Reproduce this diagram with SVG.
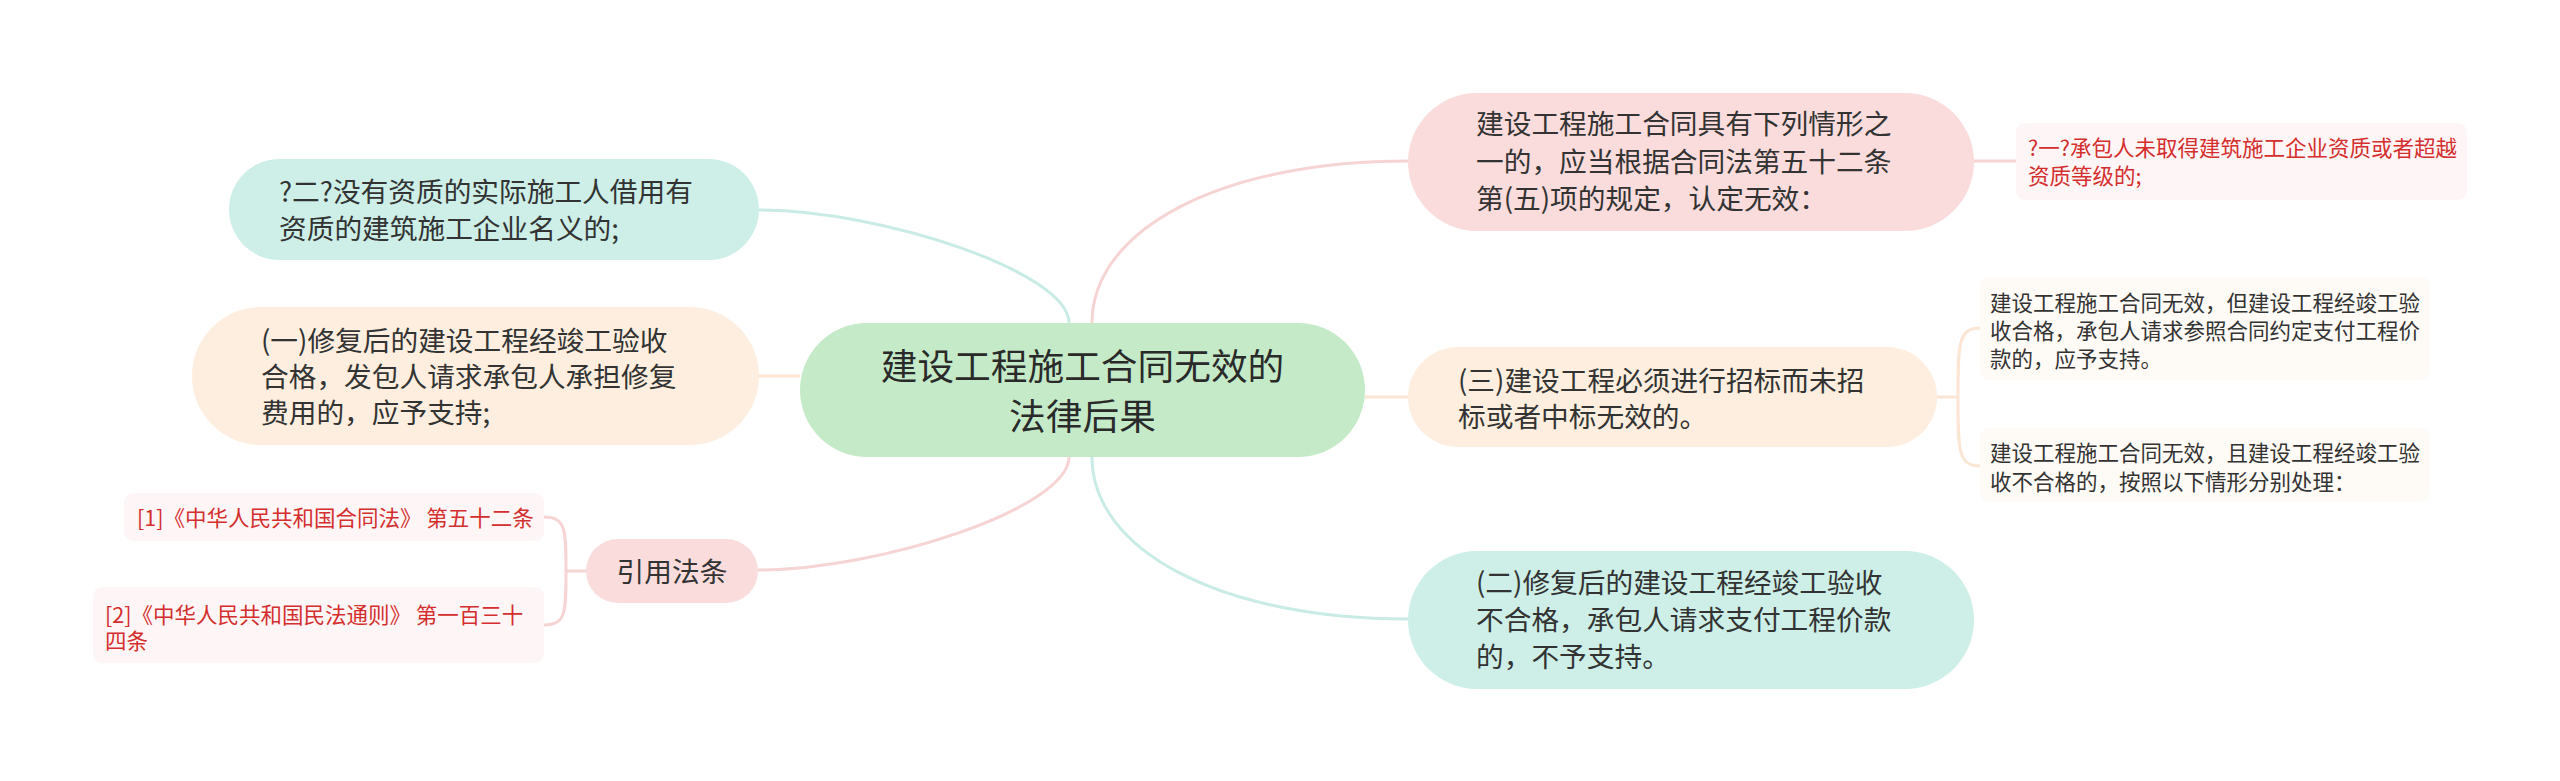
<svg xmlns="http://www.w3.org/2000/svg" width="2560" height="781" viewBox="0 0 2560 781">
<style>
text{font-family:"Noto Sans CJK SC","Liberation Sans",sans-serif;}
.t{font-size:27.7px;fill:#333333;}
.c{font-size:36.7px;fill:#2a2a2a;}
.l{font-size:21.5px;fill:#333333;}
.r{font-size:21.5px;fill:#d42e2e;}
.teal{fill:#cdefe7;}
.pink{fill:#fadcdc;}
.beige{fill:#fdeedf;}
.green{fill:#c5eac8;}
.lp{fill:#fef6f6;}
.lb{fill:#fefaf5;}
.ct{fill:none;stroke:#c8ece5;stroke-width:3;}
.cp{fill:none;stroke:#f6d4d4;stroke-width:3;}
.cb{fill:none;stroke:#fbe5d3;stroke-width:3;}
</style>
<rect width="2560" height="781" fill="#ffffff"/>
<g id="connectors">
<path class="ct" d="M1069,323 C1069,272 880,210 759,210"/>
<path class="cb" d="M800,376 L759,376"/>
<path class="cp" d="M1069,457 C1069,508 880,570 758,570"/>
<path class="cp" d="M1092,323 C1092,230 1220,161 1408,161"/>
<path class="cb" d="M1365,397 L1408,397"/>
<path class="ct" d="M1092,457 C1092,550 1220,619 1408,619"/>
<path class="cp" d="M1974,161 L2016,161"/>
<path class="cb" d="M1937,397 L1958,397 M1958,397 C1958,345 1958,328 1980,328 M1958,397 C1958,450 1958,466 1980,466"/>
<path class="cp" d="M586,571 L566,571 M566,571 C566,530 566,517 544,517 M566,571 C566,612 566,625 544,625"/>
</g>
<g id="center">
<rect class="green" x="800" y="323" width="565" height="134" rx="67"/>
<text class="c" text-anchor="middle"><tspan x="1082.5" y="380">建设工程施工合同无效的</tspan><tspan x="1082.5" y="430">法律后果</tspan></text>
</g>
<g id="n-er">
<rect class="teal" x="229" y="159" width="530" height="101" rx="50.5"/>
<text class="t"><tspan x="279" y="202">?二?没有资质的实际施工人借用有</tspan><tspan x="279" y="239">资质的建筑施工企业名义的;</tspan></text>
</g>
<g id="n-yi">
<rect class="beige" x="192" y="307" width="567" height="138" rx="69"/>
<text class="t"><tspan x="261" y="351">(一)修复后的建设工程经竣工验收</tspan><tspan x="261" y="387">合格，发包人请求承包人承担修复</tspan><tspan x="261" y="423">费用的，应予支持;</tspan></text>
</g>
<g id="n-cite">
<rect class="pink" x="586" y="539" width="172" height="64" rx="32"/>
<text class="t" x="672" y="582" text-anchor="middle">引用法条</text>
</g>
<g id="leaf-cite1">
<rect class="lp" x="124" y="493" width="420" height="48" rx="9"/>
<text class="r" x="137" y="526">[1]《中华人民共和国合同法》 第五十二条</text>
</g>
<g id="leaf-cite2">
<rect class="lp" x="93" y="587" width="451" height="76" rx="9"/>
<text class="r"><tspan x="105" y="623">[2]《中华人民共和国民法通则》 第一百三十</tspan><tspan x="105" y="649">四条</tspan></text>
</g>
<g id="n-right1">
<rect class="pink" x="1408" y="93" width="566" height="138" rx="69"/>
<text class="t"><tspan x="1476" y="134">建设工程施工合同具有下列情形之</tspan><tspan x="1476" y="172">一的，应当根据合同法第五十二条</tspan><tspan x="1476" y="209">第(五)项的规定，认定无效：</tspan></text>
</g>
<g id="leaf-r1">
<rect class="lp" x="2016" y="123" width="451" height="77" rx="9"/>
<text class="r"><tspan x="2028" y="156">?一?承包人未取得建筑施工企业资质或者超越</tspan><tspan x="2028" y="184">资质等级的;</tspan></text>
</g>
<g id="n-san">
<rect class="beige" x="1408" y="347" width="529" height="100" rx="50"/>
<text class="t"><tspan x="1458" y="391">(三)建设工程必须进行招标而未招</tspan><tspan x="1458" y="427">标或者中标无效的。</tspan></text>
</g>
<g id="leaf-san1">
<rect class="lb" x="1980" y="277" width="450" height="103" rx="9"/>
<text class="l"><tspan x="1990" y="311">建设工程施工合同无效，但建设工程经竣工验</tspan><tspan x="1990" y="339">收合格，承包人请求参照合同约定支付工程价</tspan><tspan x="1990" y="367">款的，应予支持。</tspan></text>
</g>
<g id="leaf-san2">
<rect class="lb" x="1980" y="428" width="450" height="74" rx="9"/>
<text class="l"><tspan x="1990" y="461">建设工程施工合同无效，且建设工程经竣工验</tspan><tspan x="1990" y="490">收不合格的，按照以下情形分别处理：</tspan></text>
</g>
<g id="n-er-right">
<rect class="teal" x="1408" y="551" width="566" height="138" rx="69"/>
<text class="t"><tspan x="1476" y="593">(二)修复后的建设工程经竣工验收</tspan><tspan x="1476" y="630">不合格，承包人请求支付工程价款</tspan><tspan x="1476" y="667">的，不予支持。</tspan></text>
</g>
</svg>
